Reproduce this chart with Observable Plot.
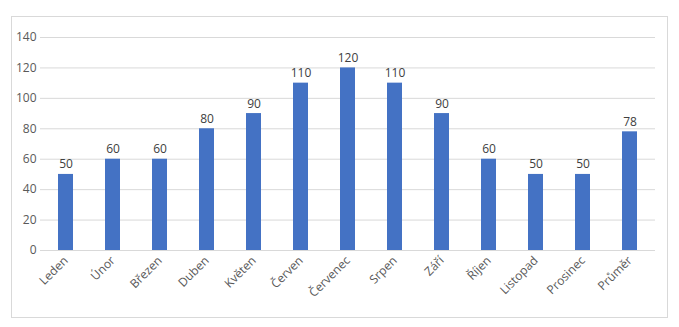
<!DOCTYPE html>
<html>
<head>
<meta charset="utf-8">
<script src="https://cdn.jsdelivr.net/npm/d3@7"></script>
<script src="https://cdn.jsdelivr.net/npm/@observablehq/plot@0.6"></script>
<style>
  html, body { margin: 0; padding: 0; background: #fff; }
  #wrap { position: relative; width: 679px; height: 327px; }
  #border { position: absolute; left: 11px; top: 16px; width: 655px; height: 300px; border: 1px solid #d9d9d9; pointer-events: none; }
</style>
</head>
<body>
<div id="wrap"><div id="border"></div></div>
<script>
const months = ["Leden", "Únor", "Březen", "Duben", "Květen", "Červen", "Červenec", "Srpen", "Září", "Říjen", "Listopad", "Prosinec", "Průměr"];
const values = [50, 60, 60, 80, 90, 110, 120, 110, 90, 60, 50, 50, 78];
const yTicks = [0, 20, 40, 60, 80, 100, 120, 140];

const data = months.map((m, i) => ({month: m, value: values[i]}));

const chart = Plot.plot({
  width: 679,
  height: 327,
  marginLeft: 40,
  marginRight: 24,
  marginTop: 37,
  marginBottom: 77,
  style: {fontFamily: "'Open Sans', sans-serif", fontSize: "12px", color: "#595959", background: "transparent"},
  x: {domain: months, paddingInner: 0.68, paddingOuter: 0.34, label: null},
  y: {domain: [0, 140], ticks: yTicks, label: null},
  marks: [
    Plot.gridY(yTicks, {stroke: "#d9d9d9", strokeOpacity: 1}),
    Plot.axisY(yTicks, {tickSize: 0, tickPadding: 4, label: null, fill: "#595959"}),
    Plot.axisX({tickSize: 0, tickPadding: 8, tickRotate: -45, label: null, fill: "#595959"}),
    Plot.barY(data, {x: "month", y: "value", fill: "#4472C4"}),
    Plot.text(data, {x: "month", y: "value", text: d => String(d.value), lineAnchor: "bottom", dy: -6, fill: "#404040"})
  ]
});
document.getElementById("wrap").appendChild(chart);
chart.style.position = "absolute";
chart.style.left = "0";
chart.style.top = "0";
</script>
</body>
</html>
